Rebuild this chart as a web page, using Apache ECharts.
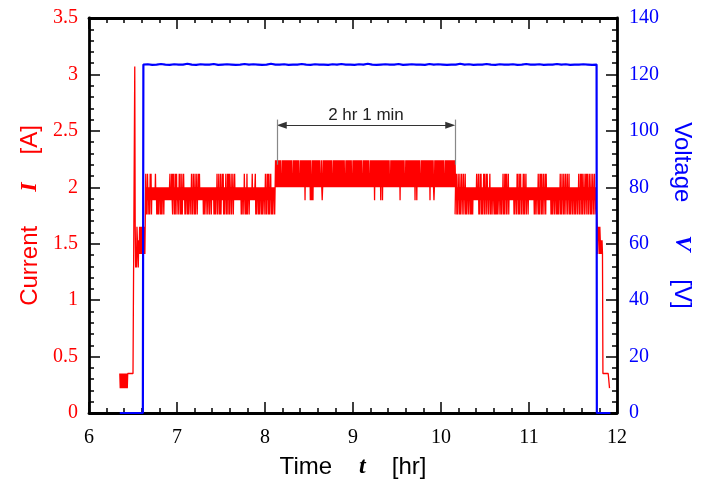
<!DOCTYPE html>
<html><head><meta charset="utf-8">
<script src="https://cdn.jsdelivr.net/npm/echarts@6/dist/echarts.min.js"></script>
<style>html,body{margin:0;padding:0;background:#fff}#c{width:702px;height:485px}</style>
</head><body><div id="c"></div>
<script>
// ---- axis ticks ----
const timeTicks = [6, 7, 8, 9, 10, 11, 12];
const currentTicks = [0, 0.5, 1, 1.5, 2, 2.5, 3, 3.5];
const voltageTicks = [0, 20, 40, 60, 80, 100, 120, 140];

// ---- current (A): quantised logger levels, one code per sample ----
const currentLevels = {a:0.22, b:0.35, f:1.29, c:1.41, d:1.53, e:1.65, '0':1.76, '1':1.885, '2':2.0, '3':2.12, '4':2.24, X:3.07};
const currentStep = 0.005; // hr between samples
const currentSegStarts = [6.35, 6.44, 6.52, 6.525, 6.64, 8.12, 10.16, 11.775, 11.84, 11.915];
const currentSegCodes = [
  "babababaabababbaba",
  "bbbbbbbbbbbbbbbb",
  "X",
  "efcfedcfdcecedcecedcedc",
  "0302031202031302121212131202020212020202120212121212121231213103130203130212031302030213120202120202120213020312030213021313121212120202120212021202120212120202" +
  "0213021302030213130202130203130302130213021312121212121212020212031202030212021212131212123020212021021202021202130203130302130202021202",
  "4242424242424232424242424242424242424232424242424242423242424242424142424242424142124142424242424242423242124242424242424242424242324242424242424242424242424232" +
  "4242424242424232424242424242424242424232424242424242423242424242414242424242424142414242424242424242324242424242424242424241424242424232424242424242424242424142" +
  "414242424232424242424242424242414242424212424242424242424242424232424242424242424242424242",
  "0213020312030213021302130202120212020202021212121312130203130202130302130312021302021202120202020212021202021302031303021302121212121202021203130203130202130302" +
  "1302120212121212121202021202130203130302130213031212121212020202120212020202021302031203021302130213020212020212020212021302031303021302130313020312030213021302",
  "ecedecedcdcdc",
  "bbbbbbbbbbbbbb",
  "a"
];

// ---- voltage (V) ----
const voltageLead = [[6.35, 0], [6.612, 0]];
const voltagePlateauStart = 6.618;
const voltageStep = 0.05;
const voltagePlateau = [
  123.5,123.6,123.4,123.5,123.7,123.5,123.4,123.6,123.5,123.5,
  123.8,123.5,123.4,123.6,123.5,123.5,123.7,123.4,123.5,123.6,
  123.5,123.4,123.5,123.7,123.5,123.6,123.5,123.4,123.5,123.8,
  123.5,123.5,123.6,123.4,123.5,123.5,123.7,123.5,123.4,123.6,
  123.5,123.5,123.4,123.6,123.5,123.7,123.5,123.5,123.4,123.6,
  123.5,123.8,123.5,123.4,123.5,123.6,123.5,123.5,123.7,123.4,
  123.5,123.6,123.5,123.5,123.4,123.7,123.5,123.6,123.5,123.4,
  123.5,123.5,123.8,123.5,123.6,123.4,123.5,123.5,123.7,123.5,
  123.4,123.6,123.5,123.5,123.6,123.4,123.5,123.7,123.5,123.5,
  123.6,123.4,123.5,123.5,123.7,123.5,123.6,123.4,123.5,123.5,
  123.6,123.5,123.4,123.5
];
const voltageTail = [[11.771, 0], [11.925, 0]];

// ---- annotation ----
const spanStart = 8.135, spanEnd = 10.16, spanLevel = 2.55, spanLabel = '2 hr 1 min';
const arrowStart = 8.19, arrowEnd = 10.105;
const guideTop = 2.6, guideBottom = 2.2;

// ---- build series data ----
const currentData = [];
currentSegCodes.forEach((codes, s) => {
  for (let i = 0; i < codes.length; i++) {
    currentData.push([currentSegStarts[s] + i * currentStep, currentLevels[codes[i]]]);
  }
});
const voltageData = voltageLead.slice();
voltagePlateau.forEach((v, i) => voltageData.push([voltagePlateauStart + i * voltageStep, v]));
voltageTail.forEach(p => voltageData.push(p));

const serif = 'Liberation Serif', sans = 'Liberation Sans';
const tickStyle = {inside: true, length: 11, lineStyle: {color: '#000', width: 1.5}};
const minorStyle = {show: true, splitNumber: 5, length: 5, lineStyle: {color: '#000', width: 1.5}};
const lineAx = {show: true, onZero: false, lineStyle: {color: '#000', width: 2.8}};

function nameRich(color, padL, padR) {
  return {
    a: {fontFamily: sans, fontSize: 24, color: color},
    i: {fontFamily: serif, fontStyle: 'italic', fontWeight: 'bold', fontSize: 24, color: color, padding: [0, padR, 0, padL]}
  };
}

const chart = echarts.init(document.getElementById('c'), null, {renderer: 'canvas'});
chart.setOption({
  animation: false,
  backgroundColor: '#fff',
  grid: {left: 89, right: 85, top: 18, bottom: 72},
  xAxis: [{
    type: 'value', min: timeTicks[0], max: timeTicks[timeTicks.length - 1], interval: timeTicks[1] - timeTicks[0],
    axisLine: lineAx, axisTick: tickStyle, minorTick: minorStyle, splitLine: {show: false},
    axisLabel: {color: '#000', fontFamily: serif, fontSize: 20, margin: 15},
    name: '{a|Time}{i|t}{a|[hr]}', nameLocation: 'middle', nameGap: 42,
    nameTextStyle: {rich: nameRich('#000', 27, 26)}
  }, {
    type: 'value', position: 'top', min: timeTicks[0], max: timeTicks[timeTicks.length - 1], interval: timeTicks[1] - timeTicks[0],
    axisLine: lineAx, axisTick: tickStyle, minorTick: minorStyle, splitLine: {show: false},
    axisLabel: {show: false}
  }],
  yAxis: [{
    type: 'value', position: 'left', min: currentTicks[0], max: currentTicks[currentTicks.length - 1], interval: currentTicks[1] - currentTicks[0],
    axisLine: lineAx, axisTick: tickStyle, minorTick: minorStyle, splitLine: {show: false},
    axisLabel: {color: '#ff0000', fontFamily: serif, fontSize: 20, margin: 11},
    name: '{a|Current}{i|I}{a|[A]}', nameLocation: 'middle', nameGap: 46, nameRotate: 90,
    nameTextStyle: {rich: nameRich('#ff0000', 34, 28)}
  }, {
    type: 'value', position: 'right', min: voltageTicks[0], max: voltageTicks[voltageTicks.length - 1], interval: voltageTicks[1] - voltageTicks[0],
    axisLine: lineAx, axisTick: tickStyle, minorTick: minorStyle, splitLine: {show: false},
    axisLabel: {color: '#0000ff', fontFamily: serif, fontSize: 20, margin: 12},
    name: '{a|Voltage}{i|V}{a|[V]}', nameLocation: 'middle', nameGap: 53, nameRotate: -90,
    nameTextStyle: {rich: nameRich('#0000ff', 33, 28)}
  }],
  series: [{
    name: 'Current', type: 'line', xAxisIndex: 0, yAxisIndex: 0, data: currentData,
    showSymbol: false, symbol: 'none', sampling: null, z: 3,
    lineStyle: {color: '#ff0000', width: 1.3},
    markLine: {
      silent: true, animation: false, symbol: ['none', 'none'],
      data: [
        [{coord: [arrowStart, spanLevel], symbol: 'triangle', symbolSize: [7, 10],
          lineStyle: {color: '#333', width: 1, type: 'solid'},
          label: {show: true, position: 'middle', formatter: spanLabel, color: '#222', fontFamily: sans, fontSize: 17, distance: 1}},
         {coord: [arrowEnd, spanLevel], symbol: 'triangle', symbolSize: [7, 10]}],
        [{coord: [spanStart, guideTop], lineStyle: {color: '#888', width: 1.2, type: 'solid'}, label: {show: false}},
         {coord: [spanStart, guideBottom]}],
        [{coord: [spanEnd, guideTop], lineStyle: {color: '#888', width: 1.2, type: 'solid'}, label: {show: false}},
         {coord: [spanEnd, guideBottom]}]
      ]
    }
  }, {
    name: 'Voltage', type: 'line', xAxisIndex: 0, yAxisIndex: 1, data: voltageData,
    showSymbol: false, symbol: 'none', z: 4,
    lineStyle: {color: '#0000ff', width: 2.2}
  }]
});
</script></body></html>
